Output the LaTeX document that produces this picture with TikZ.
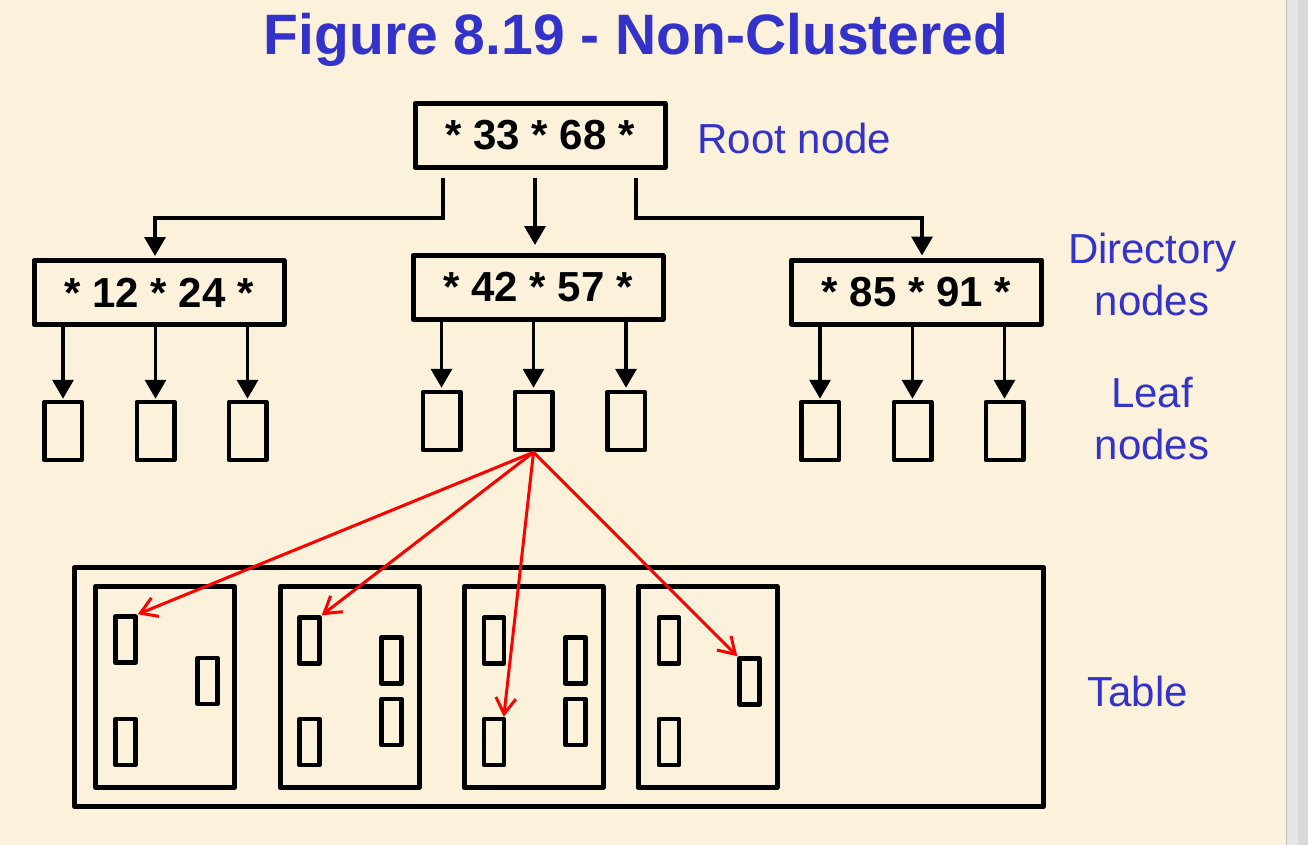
\documentclass[tikz,border=0pt]{standalone}
\usepackage{fontspec}
\setmainfont{Liberation Sans}
\usetikzlibrary{arrows.meta}
\definecolor{bg}{RGB}{252,242,220}
\definecolor{lblue}{RGB}{51,51,204}
\definecolor{barA}{RGB}{230,230,230}
\definecolor{barB}{RGB}{217,217,217}
\definecolor{barL}{RGB}{190,190,190}
\begin{document}
\begin{tikzpicture}[x=1pt,y=-1pt,
  keybox/.style={draw=black, line width=5pt, line join=round, minimum width=250pt, minimum height=64pt, inner sep=0pt, font=\fontsize{42}{48}\selectfont\bfseries},
  leafbox/.style={draw, line width=4.5pt, line join=round, minimum width=37.5pt, minimum height=58pt, inner sep=0pt},
  pagebox/.style={draw, line width=5pt, line join=round, minimum width=139pt, minimum height=201pt, inner sep=0pt},
  recbox/.style={draw, line width=4.5pt, line join=round, minimum width=20pt, minimum height=46pt, inner sep=0pt},
  tablebox/.style={draw, line width=5pt, line join=round, minimum width=969pt, minimum height=239pt, inner sep=0pt},
  tarr/.style={line width=3.5pt, -{Triangle[width=21pt,length=19pt]}},
  rarr/.style={draw=red, line width=3pt, line cap=round, -{Straight Barb[length=16pt,width=20pt]}},
  lbl/.style={text=lblue, font=\fontsize{42}{52}\selectfont},
]
\useasboundingbox (0,0) rectangle (1308,845);
\fill[bg] (0,0) rectangle (1308,845);
\fill[barA] (1286,0) rectangle (1308,845);
\fill[barB] (1298,0) rectangle (1308,845);
\draw[barL, line width=1pt] (1286.5,0) -- (1286.5,845);

% title
\node[anchor=base, text=lblue, font=\fontsize{57}{60}\selectfont\bfseries] (title) at (636,55) {Figure 8.19 - Non-Clustered};

% root and directory nodes
\node[keybox] (root) at (540,135.5) {* 33 * 68 *};
\node[keybox] (dirL) at (159,292.5) {* 12 * 24 *};
\node[keybox] (dirM) at (538,287.5) {* 42 * 57 *};
\node[keybox] (dirR) at (916.5,292) {* 85 * 91 *};

% leaf nodes
\node[leafbox] (leafL1) at (63,431) {};
\node[leafbox] (leafL2) at (155.5,431) {};
\node[leafbox] (leafL3) at (247.5,431) {};
\node[leafbox] (leafM1) at (441.5,421) {};
\node[leafbox] (leafM2) at (533.5,421) {};
\node[leafbox] (leafM3) at (626,421) {};
\node[leafbox] (leafR1) at (820,431) {};
\node[leafbox] (leafR2) at (912.5,431) {};
\node[leafbox] (leafR3) at (1004.5,431) {};

% table, pages, records
\node[tablebox] (table) at (559,687) {};
\node[pagebox] (p1) at (165,687) {};
\node[pagebox] (p2) at (349.5,687) {};
\node[pagebox] (p3) at (533.5,687) {};
\node[pagebox] (p4) at (707.5,687) {};

\node[recbox] (r11) at (125.5,639.5) {};
\node[recbox] (r12) at (207.5,681) {};
\node[recbox] (r13) at (125.5,742) {};
\node[recbox] (r21) at (309.5,640.5) {};
\node[recbox] (r22) at (391.5,660.5) {};
\node[recbox] (r23) at (391.5,722) {};
\node[recbox] (r24) at (309.5,742) {};
\node[recbox] (r31) at (494,640.5) {};
\node[recbox] (r32) at (575.5,660.5) {};
\node[recbox] (r33) at (575.5,722) {};
\node[recbox] (r34) at (494,742) {};
\node[recbox] (r41) at (669,640.5) {};
\node[recbox] (r42) at (749.5,681.5) {};
\node[recbox] (r43) at (669,742) {};

% root -> directory
\draw[tarr, shorten >=2pt] ([xshift=-97pt,yshift=-8pt]root.south) -- ++(0,40) -| ([xshift=-4pt]dirL.north);
\draw[tarr, shorten >=8pt] ([xshift=-5pt,yshift=-8pt]root.south) -- ([xshift=-3pt]dirM.north);
\draw[tarr, shorten >=2pt] ([xshift=96pt,yshift=-8pt]root.south) -- ++(0,40) -| ([xshift=5.5pt]dirR.north);

% directory -> leaves
\foreach \d/\a/\b/\c in {dirL/leafL1/leafL2/leafL3, dirR/leafR1/leafR2/leafR3}{
  \draw[tarr, shorten >=1pt] (\a.north |- \d.south) -- (\a.north);
  \draw[tarr, shorten >=1pt] (\b.north |- \d.south) -- (\b.north);
  \draw[tarr, shorten >=1pt] (\c.north |- \d.south) -- (\c.north);
}
\foreach \a in {leafM1,leafM2,leafM3}{
  \draw[tarr, shorten >=2pt] (\a.north |- dirM.south) -- (\a.north);
}

% leaf -> records
\draw[rarr] (leafM2.south) -- (r11.north east);
\draw[rarr] (leafM2.south) -- (r21.north east);
\draw[rarr] (leafM2.south) -- ([xshift=-2.5pt]r34.north east);
\draw[rarr] (leafM2.south) -- (r42.north west);

% labels
\node[lbl, anchor=base west] (rootlbl) at (694,154) {Root node};
\node[lbl, align=center, anchor=base] (dirlbl) at (1152,315) {Directory\\nodes};
\node[lbl, align=center, anchor=base] (leaflbl) at (1152,459) {Leaf\\nodes};
\node[lbl, anchor=base] (tbllbl) at (1137.5,706) {Table};
\end{tikzpicture}
\end{document}
